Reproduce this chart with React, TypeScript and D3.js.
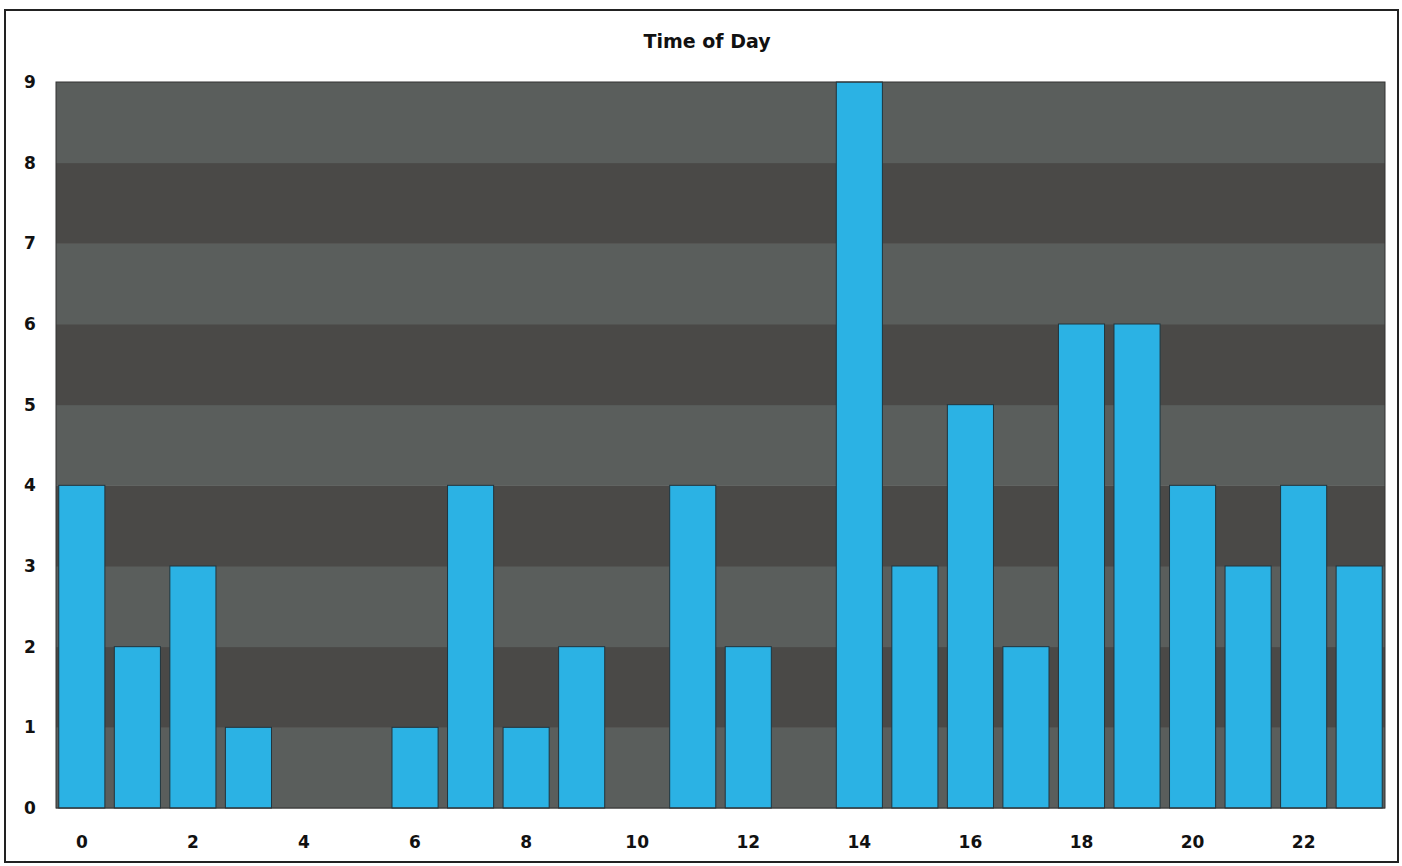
import React from 'react';
import * as d3 from 'd3';

const hours = d3.range(0, 24).map(String);
const counts = [4, 2, 3, 1, 0, 0, 1, 4, 1, 2, 0, 4, 2, 0, 9, 3, 5, 2, 6, 6, 4, 3, 4, 3];
const yTicks = [0, 1, 2, 3, 4, 5, 6, 7, 8, 9];
const xTickLabels = ['0', '2', '4', '6', '8', '10', '12', '14', '16', '18', '20', '22'];

const width = 1402;
const height = 866;
const margin = { top: 82, right: 17, bottom: 58, left: 56 };
const font = 'Verdana, "DejaVu Sans", sans-serif';

export default function App() {
  const innerW = width - margin.left - margin.right;
  const innerH = height - margin.top - margin.bottom;

  const x = d3.scaleBand().domain(hours).range([0, innerW]).paddingInner(0.17).paddingOuter(0.05);
  const y = d3.scaleLinear().domain([0, 9]).range([innerH, 0]);

  // alternating horizontal bands between gridlines
  const bands = d3.range(0, 9);

  return (
    <svg width={width} height={height} style={{ position: 'absolute', left: 0, top: 0, background: '#fff' }}>
      <rect x={5} y={10} width={1393} height={852} fill="#fff" stroke="#222" strokeWidth={2} />
      <text x={707} y={48} textAnchor="middle" fontFamily={font} fontWeight="bold" fontSize={19} fill="#111">
        Time of Day
      </text>
      <g transform={`translate(${margin.left},${margin.top})`}>
        {bands.map((b) => (
          <rect key={b} x={0} y={y(b + 1)} width={innerW} height={y(b) - y(b + 1) + 0.5}
            fill={b % 2 === 0 ? '#5a5e5c' : '#4a4947'} />
        ))}
        {counts.map((v, i) => v > 0 && (
          <rect key={i} x={x(hours[i])} y={y(v)} width={x.bandwidth()} height={y(0) - y(v)}
            fill="#2bb2e4" stroke="#22343c" strokeWidth={1} />
        ))}
        <rect x={0} y={0} width={innerW} height={innerH} fill="none" stroke="#333" strokeWidth={1} />
        {yTicks.map((t) => (
          <text key={t} x={-26} y={y(t) + 6} textAnchor="middle" fontFamily={font} fontWeight="bold"
            fontSize={17} fill="#111">{t}</text>
        ))}
        {xTickLabels.map((t) => (
          <text key={t} x={(x(t) as number) + x.bandwidth() / 2} y={innerH + 40} textAnchor="middle"
            fontFamily={font} fontWeight="bold" fontSize={17} fill="#111">{t}</text>
        ))}
      </g>
    </svg>
  );
}
